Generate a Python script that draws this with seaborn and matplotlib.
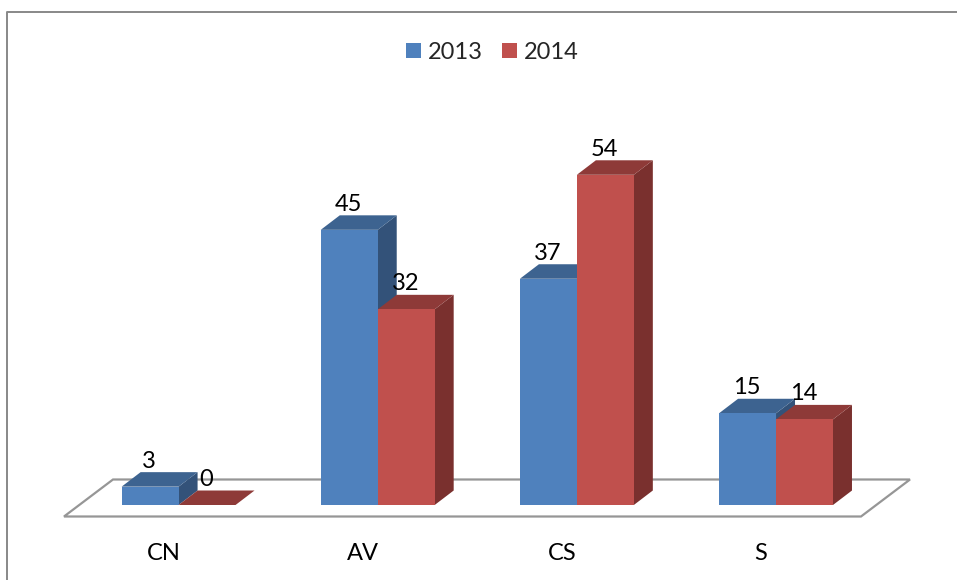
import matplotlib
matplotlib.use('Agg')
import matplotlib.pyplot as plt
from matplotlib.patches import Polygon
from matplotlib.lines import Line2D
from matplotlib.transforms import ScaledTranslation
import pandas as pd
import seaborn as sns

categories = ['CN', 'AV', 'CS', 'S']
values_2013 = [3, 45, 37, 15]
values_2014 = [0, 32, 54, 14]
years = ['2013', '2014']

W, H = 957, 580
colors = {'2013': '#4F81BD', '2014': '#C0504D'}
top_colors = ['#3D6390', '#8E3A38']
side_colors = ['#335279', '#7A302E']

df = pd.DataFrame({'cat': categories * 2,
                   'year': ['2013'] * 4 + ['2014'] * 4,
                   'val': values_2013 + values_2014})

sns.set_theme(style='white')
plt.rcParams['font.family'] = ['Lato', 'DejaVu Sans']

fig = plt.figure(figsize=(W / 100, H / 100), dpi=100)
ax = fig.add_axes([79.0 / W, (H - 505) / H, 796.6 / W, 366.9 / H])
sns.barplot(data=df, x='cat', y='val', hue='year', order=categories, hue_order=years,
            palette=colors, saturation=1, width=0.572, gap=0, linewidth=0, ax=ax, legend=False)
ax.set_xlim(-0.5, 3.5)
ax.set_ylim(0, 60)
ax.set_xlabel('')
ax.set_ylabel('')
ax.set_yticks([])
ax.patch.set_visible(False)
sns.despine(ax=ax, left=True, bottom=True)
ax.tick_params(axis='x', length=0, pad=27.2, labelsize=17, labelcolor='black')
for lab in ax.get_xticklabels():
    lab.set_transform(lab.get_transform() + ScaledTranslation(-15 / 100, 0, fig.dpi_scale_trans))

# depth of the fake 3d in data units
dx = 19 / (796.6 / 4)
dy = 14.5 / (366.9 / 60)

z = 3
for i, cont in enumerate(ax.containers):
    for bar, v in zip(cont.patches, cont.datavalues):
        x0, x1 = bar.get_x(), bar.get_x() + bar.get_width()
        top = [(x0, v), (x1, v), (x1 + dx, v + dy), (x0 + dx, v + dy)]
        side = [(x1, 0), (x1 + dx, dy), (x1 + dx, v + dy), (x1, v)]
        if v > 0:
            ax.add_patch(Polygon(side, fc=side_colors[i], ec='none', zorder=z, clip_on=False))
        ax.add_patch(Polygon(top, fc=top_colors[i], ec='none', zorder=z, clip_on=False))
        bar.set_zorder(z + 0.5)
        z += 1
        ax.annotate(f'{v:g}', xy=((x0 + x1) / 2, v), xytext=(-1, 25.5),
                    textcoords='offset pixels', ha='center', va='center',
                    fontsize=17, color='black', zorder=50, annotation_clip=False)


def px(pts):
    return [(x / W, 1 - y / H) for x, y in pts]


# floor and outer frame
fig.add_artist(Polygon(px([(64, 516.5), (861, 516.5), (910, 479.5), (113, 479.5)]),
                       closed=True, fc='white', ec='#969696', lw=1.6,
                       transform=fig.transFigure, zorder=-1))
fx, fy = zip(*px([(7, 580), (7, 11.5), (957, 11.5)]))
fig.add_artist(Line2D(fx, fy, color='#888888', lw=1.4, transform=fig.transFigure, zorder=-1))

handles = [plt.Rectangle((0, 0), 1, 1, fc=colors[y], lw=0) for y in years]
ax.legend(handles, years, ncol=2, frameon=False, fontsize=17, loc='center',
          bbox_to_anchor=(492.5 / W, 1 - 52.5 / H), bbox_transform=fig.transFigure,
          handlelength=0.635, handleheight=0.635, handletextpad=0.3, columnspacing=0.8,
          borderpad=0, borderaxespad=0)

fig.savefig('out.png', dpi=100)
